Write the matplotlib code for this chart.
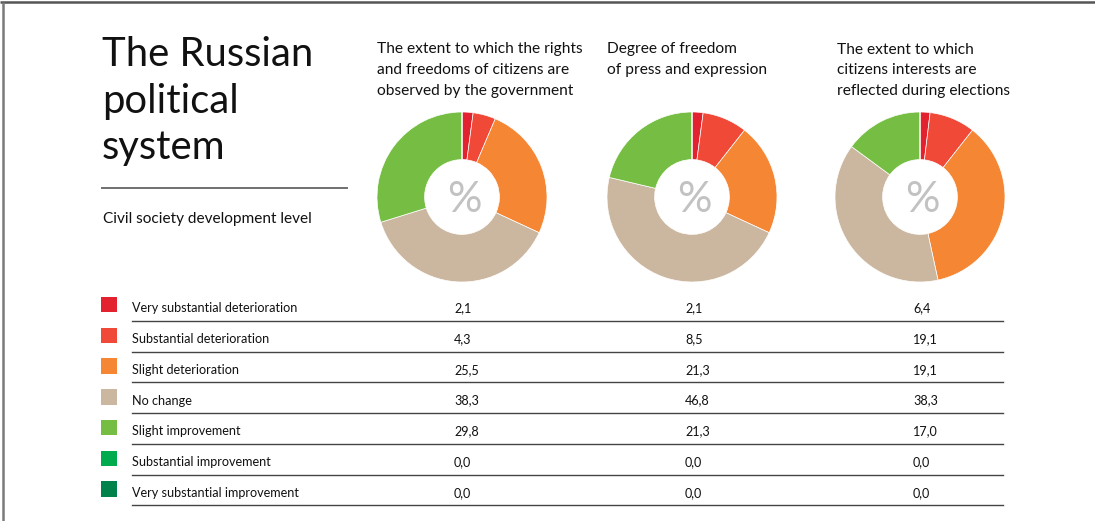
import matplotlib
matplotlib.use("Agg")
import matplotlib.pyplot as plt

# ---------------- data ----------------
title_lines = ["The Russian", "political", "system"]
subtitle = "Civil society development level"
chart_titles = [
    ["The extent to which the rights", "and freedoms of citizens are", "observed by the government"],
    ["Degree of freedom", "of press and expression"],
    ["The extent to which", "citizens interests are", "reflected during elections"],
]
categories = [
    "Very substantial deterioration",
    "Substantial deterioration",
    "Slight deterioration",
    "No change",
    "Slight improvement",
    "Substantial improvement",
    "Very substantial improvement",
]
colors = ["#e2222f", "#f04938", "#f58634", "#cbb7a0", "#76be43", "#00ab4e", "#00824a"]
# table values (as printed)
table_rights = ["2,1", "4,3", "25,5", "38,3", "29,8", "0,0", "0,0"]
table_press = ["2,1", "8,5", "21,3", "46,8", "21,3", "0,0", "0,0"]
table_elections = ["6,4", "19,1", "19,1", "38,3", "17,0", "0,0", "0,0"]
# donut shares (as drawn)
donut_rights = [2.1, 4.3, 25.5, 38.3, 29.8, 0.0, 0.0]
donut_press = [2.1, 8.5, 21.3, 46.8, 21.3, 0.0, 0.0]
donut_elections = [1.9, 8.7, 36.0, 38.5, 14.9, 0.0, 0.0]

# ---------------- layout ----------------
W, H = 1095, 521
FONT = "Lato"
fig = plt.figure(figsize=(W / 100, H / 100), dpi=100)
fig.patch.set_facecolor("white")
ax = fig.add_axes([0, 0, 1, 1])
ax.set_xlim(0, W)
ax.set_ylim(H, 0)
ax.axis("off")

renderer = fig.canvas.get_renderer()


def fit_size(s, target_w, weight="normal"):
    t = ax.text(0, 0, s, fontsize=10, family=FONT, fontweight=weight)
    w = t.get_window_extent(renderer=renderer).width
    t.remove()
    return 10 * target_w / w


# frame
ax.plot([0, W], [2, 2], color="#555555", lw=1.8, solid_capstyle="butt")
ax.plot([3, 3], [2, H], color="#7a7a7a", lw=1.8, solid_capstyle="butt")

# title
ts = fit_size(title_lines[0], 211)
for i, line in enumerate(title_lines):
    ax.text(102, 66.5 + i * 46, line, fontsize=ts, family=FONT, color="#111111",
            va="baseline", ha="left")
ax.plot([102, 347], [188, 188], color="#707070", lw=1.4)
ss = fit_size(subtitle, 210)
ax.text(103, 223, subtitle, fontsize=ss, family=FONT, color="#111111", va="baseline")

# chart titles
cs = fit_size(chart_titles[0][0], 205)
col_x = [377, 607, 837]
for x, lines in zip(col_x, chart_titles):
    for j, line in enumerate(lines):
        ax.text(x, 53.5 + j * 20.7, line, fontsize=cs, family=FONT, color="#111111",
                va="baseline")

# donuts
centers = [(462, 197), (692, 197), (920, 197)]
R = 85
for (cx, cy), vals in zip(centers, [donut_rights, donut_press, donut_elections]):
    dax = fig.add_axes([(cx - R) / W, 1 - (cy + R) / H, 2 * R / W, 2 * R / H])
    dax.pie(vals, colors=colors, startangle=90, counterclock=False, radius=1,
            wedgeprops=dict(width=0.56, edgecolor="white", linewidth=0.5))
    dax.set_xlim(-1, 1)
    dax.set_ylim(-1, 1)
    dax.set_aspect("equal")
    dax.axis("off")
    dax.text(0.03, -0.03, "%", ha="center", va="center", fontsize=31, family=FONT,
             fontweight="normal", color="#c2c2c2")

# table
ls = fit_size(categories[0], 165)
row0 = 312.3
dy = 30.75
val_x = [454, 685, 913]
for i, (cat, col) in enumerate(zip(categories, colors)):
    yb = row0 + i * dy
    ax.add_patch(plt.Rectangle((101, yb - 15.5), 15.5, 15.5, color=col, lw=0))
    ax.text(132, yb, cat, fontsize=ls, family=FONT, color="#111111", va="baseline")
    for x, vals in zip(val_x, [table_rights, table_press, table_elections]):
        ax.text(x, yb, vals[i], fontsize=ls, family=FONT, color="#111111", va="baseline")
    ax.plot([132, 1003], [yb + 8.5, yb + 8.5], color="#444444", lw=1.0)

fig.savefig("out.png", dpi=100, facecolor="white")
